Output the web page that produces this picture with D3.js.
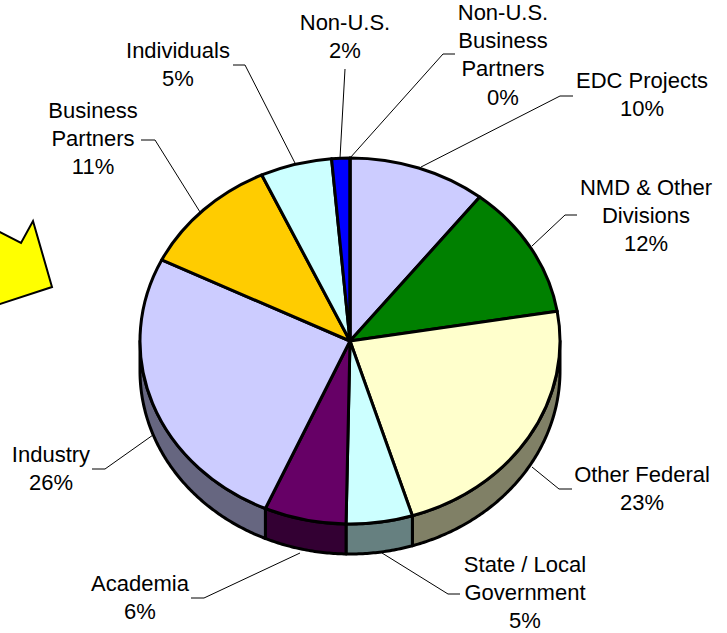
<!DOCTYPE html>
<html>
<head>
<meta charset="utf-8">
<script src="https://cdn.jsdelivr.net/npm/d3@7"></script>
<style>
  html, body { margin: 0; padding: 0; background: #fff; }
  text { font-family: "Liberation Sans", Arial, sans-serif; font-size: 22px; fill: #000; text-anchor: middle; }
</style>
</head>
<body>
<div id="my_dataviz"></div>
<script>
// slice values, labels as printed on it
var categories = ["EDC Projects", "NMD & Other Divisions", "Other Federal", "State / Local Government", "Academia", "Industry", "Business Partners", "Individuals", "Non-U.S.", "Non-U.S. Business Partners"]
var sliceValues = [10.6, 11.8, 22.8, 5.1, 6.3, 25.7, 10.8, 5.5, 1.4, 0]
var percentLabels = ["10%", "12%", "23%", "5%", "6%", "26%", "11%", "5%", "2%", "0%"]
var sliceColors = ["#CCCCFF", "#008000", "#FFFFCC", "#CCFFFF", "#660066", "#CCCCFF", "#FFCC00", "#CCFFFF", "#0000FF", "#FFFFFF"]

// label placement: wrapped lines, centre x, first baseline
var labelLayout = [
  {lines: ["EDC Projects"], x: 642, y: 88},
  {lines: ["NMD & Other", "Divisions"], x: 646, y: 195},
  {lines: ["Other Federal"], x: 642, y: 482},
  {lines: ["State / Local", "Government"], x: 525, y: 572},
  {lines: ["Academia"], x: 140, y: 591},
  {lines: ["Industry"], x: 51, y: 462},
  {lines: ["Business", "Partners"], x: 93, y: 118},
  {lines: ["Individuals"], x: 178, y: 58},
  {lines: ["Non-U.S."], x: 345, y: 30},
  {lines: ["Non-U.S.", "Business", "Partners"], x: 503, y: 20}
]

// leader lines from the pie edge to the label
var leaders = [
  [[421, 167], [560, 96], [573, 96]],
  [[532, 246], [565, 215], [577, 215]],
  [[532, 467], [559, 489], [572, 489]],
  [[382, 553], [448, 594], [460, 594]],
  [[300, 553], [204, 598], [191, 598]],
  [[153, 435], [105, 469], [92, 469]],
  [[200, 212], [155, 140], [141, 140]],
  [[296, 165], [245, 65], [233, 65]],
  [[340, 158], [345, 69]],
  [[350, 158], [443, 54], [455, 54]]
]

var width = 727
var height = 633
var cx = 350, cy = 341
var rx = 210, ry = 183
var depth = 30

var svg = d3.select("#my_dataviz")
  .append("svg")
    .attr("width", width)
    .attr("height", height)
    .style("display", "block")

// the yellow arrow on the left edge, cut off by the page
svg.append("path")
  .attr("d", d3.line()([[-12, 226], [21, 243], [33, 221], [52, 287], [-12, 308]]) + "Z")
  .attr("fill", "#FFFF00")
  .attr("stroke", "black")
  .attr("stroke-width", 2)

var pie = d3.pie().sort(null).value(function(d) { return d })
var data_ready = pie(sliceValues)

// outer edge of the tilted pie, clockwise angle from the top
function edgeX(a) { return cx + rx * Math.sin(a) }
function edgeY(a) { return cy - ry * Math.cos(a) }

// wall of the pie: only the front half can be seen
var wall = d3.area()
  .x(function(a) { return edgeX(a) })
  .y0(function(a) { return edgeY(a) })
  .y1(function(a) { return edgeY(a) + depth })

data_ready.forEach(function(d, i) {
  var start = Math.max(d.startAngle, Math.PI / 2)
  var end = Math.min(d.endAngle, Math.PI * 3 / 2)
  if (end <= start) return
  var angles = d3.range(start, end, 0.01).concat([end])
  var c = d3.rgb(sliceColors[i])
  svg.append("path")
    .attr("d", wall(angles) )
    .attr("fill", d3.rgb(c.r * 0.5, c.g * 0.5, c.b * 0.5))
    .attr("stroke", "black")
    .attr("stroke-width", 3)
    .attr("stroke-linejoin", "round")
})

// top face: circular arcs squashed into the ellipse
var topFace = svg.append("g")
  .attr("transform", "translate(" + cx + "," + cy + ") scale(1," + (ry / rx) + ")")

topFace.selectAll("path")
  .data(data_ready)
  .enter()
  .append("path")
  .attr("d", d3.arc().innerRadius(0).outerRadius(rx))
  .attr("fill", function(d, i) { return sliceColors[i] })
  .attr("stroke", "black")
  .attr("stroke-width", 3)
  .attr("stroke-linejoin", "round")
  .attr("vector-effect", "non-scaling-stroke")

// leaders
svg.selectAll(".leader")
  .data(leaders)
  .enter()
  .append("path")
  .attr("class", "leader")
  .attr("d", d3.line())
  .attr("fill", "none")
  .attr("stroke", "black")
  .attr("stroke-width", 1)

// labels
var lineStep = 28.2
categories.forEach(function(name, i) {
  var l = labelLayout[i]
  var t = svg.append("text").attr("aria-label", name)
  l.lines.concat([percentLabels[i]]).forEach(function(s, j) {
    t.append("tspan")
      .attr("x", l.x)
      .attr("y", l.y + j * lineStep)
      .text(s)
  })
})
</script>
</body>
</html>
